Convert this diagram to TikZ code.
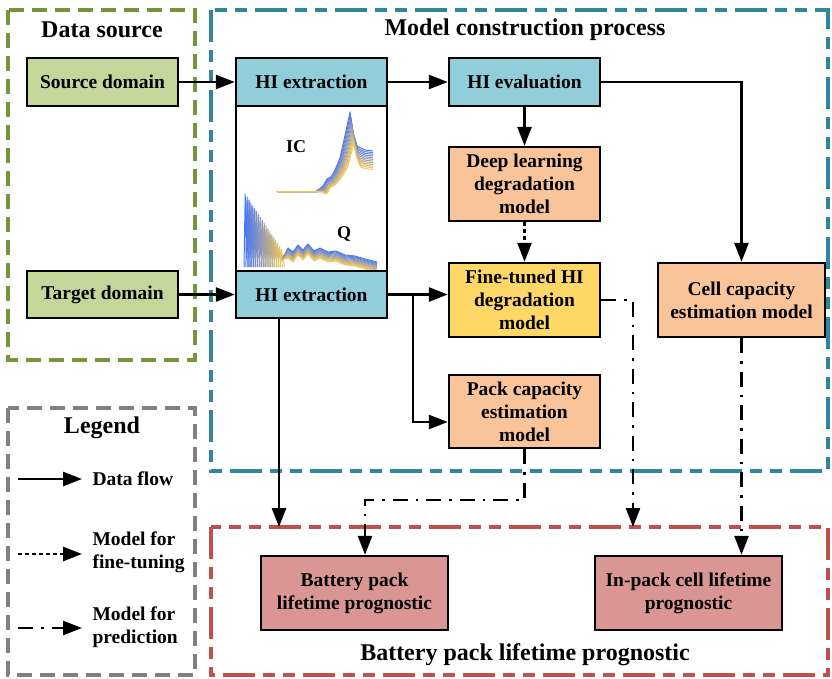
\documentclass[tikz,border=0pt]{standalone}
\usepackage{fontspec}
\setmainfont{Liberation Serif}
\usetikzlibrary{arrows.meta}
\definecolor{cgreen}{HTML}{C4D79B}
\definecolor{cblue}{HTML}{92CDDC}
\definecolor{corange}{HTML}{F9C49A}
\definecolor{cyellow}{HTML}{FDD866}
\definecolor{cred}{HTML}{D99694}
\definecolor{fgreen}{HTML}{77933C}
\definecolor{fblue}{HTML}{31859C}
\definecolor{fgray}{HTML}{808080}
\definecolor{fred}{HTML}{C0504D}
\definecolor{pblue}{HTML}{4A78F5}
\definecolor{pyellow}{HTML}{F6C957}
\tikzset{
  box/.style={draw=black,line width=2.4pt,minimum width=151pt,inner sep=0pt,align=center,
    font=\bfseries\fontsize{19.5}{23}\selectfont},
  frame/.style={line width=3.2pt},
  uni/.style={frame,dash pattern=on 15pt off 8pt},
  mixd/.style={frame,dash pattern=on 32pt off 8pt on 12pt off 8pt on 12pt off 8pt},
  ttl/.style={font=\bfseries\fontsize{24}{28}\selectfont},
  tip/.style={-{Triangle[length=19pt,width=14pt]}},
  flow/.style={tip,line width=2.6pt},
  fine/.style={tip,line width=2.6pt,dash pattern=on 4pt off 3pt},
  pred/.style={tip,line width=2.6pt,dash pattern=on 15pt off 8pt on 2.5pt off 8pt},
  lgt/.style={anchor=west,align=left,font=\bfseries\fontsize{19.5}{23}\selectfont},
}
\begin{document}
\begin{tikzpicture}[x=1pt,y=-1pt]
\useasboundingbox (0,0) rectangle (832,679);
% frames
\draw[uni,fgreen] (8,10) rectangle (195,360);
\draw[uni,fgray] (8,408) rectangle (195,675);
\draw[mixd,fblue] (211,10) rectangle (828,471);
\draw[mixd,fred] (211,527) rectangle (828,675);
% titles
\node[ttl] (tds) at (102,30) {Data source};
\node[ttl] (tmc) at (525,30) {Model construction process};
\node[ttl] (tlg) at (102,428) {Legend};
\node[ttl] (tbp) at (525,655) {Battery pack lifetime prognostic};
% plot panel
\draw[line width=2.4pt,fill=white] (236,106) rectangle (387,271);
\begin{scope}
\clip (237,107) rectangle (386,270);
\foreach \i in {0,...,11}{
  \pgfmathsetmacro{\p}{100-\i*9}
  \pgfmathsetmacro{\dy}{\i*2.4}
  \pgfmathsetmacro{\dx}{\i*0.35}
  \draw[pblue!\p!pyellow,line width=1pt,line join=round]
    (277,192) -- (316+\dx,191.5) -- (323+\dx,186+0.3*\dy) -- (327+\dx,179+0.3*\dy) -- (331+\dx,177+0.3*\dy)
    -- (335+\dx,170+0.4*\dy) -- (340+\dx,158+0.6*\dy) -- (344+\dx,140+\dy) -- (350+\dx,112+1.2*\dy)
    -- (353+\dx,132+\dy) -- (357+\dx,146+0.8*\dy) -- (365,150+0.7*\dy) -- (373,151+0.7*\dy);
}
\foreach \i in {0,...,19}{
  \pgfmathsetmacro{\p}{100-\i*5}
  \pgfmathsetmacro{\x}{244+\i*1.9}
  \pgfmathsetmacro{\h}{194+\i*2.9}
  \draw[pblue!\p!pyellow,line width=1pt,line join=round]
    (\x,267) -- (\x+1.2,\h) -- (\x+2.4,258) -- (\x+3.2,\h+6) -- (\x+4.2,267);
}
\foreach \i in {0,...,11}{
  \pgfmathsetmacro{\p}{100-\i*9}
  \pgfmathsetmacro{\dy}{\i*0.9}
  \draw[pblue!\p!pyellow,line width=1pt,line join=round]
    (282,260) -- (288,248+\dy) -- (293,252+\dy) -- (298,245+\dy) -- (303,250+\dy) -- (308,244+\dy)
    -- (314,251+\dy) -- (320,248+\dy) -- (328,252+\dy) -- (336,251+\dy) -- (345,255+\dy)
    -- (355,256+\dy) -- (365,259+\dy) -- (377,262+\dy);
}
\end{scope}
\node[font=\bfseries\fontsize{18}{20}\selectfont] (lic) at (296,147) {IC};
\node[font=\bfseries\fontsize{18}{20}\selectfont] (lq) at (344,234) {Q};
% nodes
\node[box,fill=cgreen,minimum height=48pt] (src) at (102.5,82) {Source domain};
\node[box,fill=cgreen,minimum height=47pt] (tgt) at (102.5,294.5) {Target domain};
\node[box,fill=cblue,minimum height=48pt] (hie1) at (311.5,82) {HI extraction};
\node[box,fill=cblue,minimum height=47pt] (hie2) at (311.5,294.5) {HI extraction};
\node[box,fill=cblue,minimum height=48pt] (hiev) at (524.5,82) {HI evaluation};
\node[box,fill=corange,minimum height=74pt] (deep) at (524.5,184) {Deep learning\\degradation\\model};
\node[box,fill=cyellow,minimum height=74pt] (fine) at (524.5,300) {Fine-tuned HI\\degradation\\model};
\node[box,fill=corange,minimum height=74pt,minimum width=167pt] (cell) at (741.5,300) {Cell capacity\\estimation model};
\node[box,fill=corange,minimum height=73pt] (pack) at (524.5,411.5) {Pack capacity\\estimation\\model};
\node[box,fill=cred,minimum height=74pt,minimum width=187pt] (bpl) at (354.5,593) {Battery pack\\lifetime prognostic};
\node[box,fill=cred,minimum height=74pt,minimum width=187pt] (ipl) at (688.5,593) {In-pack cell lifetime\\prognostic};
% coordinates
\coordinate (br) at (413,294.5);
\coordinate (b2) at (413,422);
\coordinate (hr) at (279,527);
\coordinate (pm) at (365,500);
\coordinate (fr) at (633,527);
% connectors
\draw[flow] (src) -- (hie1);
\draw[flow] (tgt) -- (hie2);
\draw[flow] (hie1) -- (hiev);
\draw[flow] (hiev.east) -| (cell.north);
\draw[flow] (hiev) -- (deep);
\draw[fine] (deep) -- (fine);
\draw[flow] (hie2.east) -- (fine.west |- hie2.east);
\draw[flow] (br) -- (b2) -- (pack.west |- b2);
\draw[flow] (hie2.south -| hr) -- (hr);
\draw[pred] (pack.south) |- (pm) -- (bpl.north -| pm);
\draw[pred] (fine.east) -| (fr);
\draw[pred] (cell.south) -- (ipl.north -| cell.south);
% legend
\coordinate (l1a) at (18,479); \coordinate (l1b) at (82,479);
\coordinate (l2a) at (18,554); \coordinate (l2b) at (82,554);
\coordinate (l3a) at (18,628); \coordinate (l3b) at (82,628);
\draw[flow] (l1a) -- (l1b);
\draw[fine] (l2a) -- (l2b);
\draw[pred] (l3a) -- (l3b);
\node[lgt] (t1) at (89,479) {Data flow};
\node[lgt] (t2) at (89,552) {Model for\\fine-tuning};
\node[lgt] (t3) at (89,627) {Model for\\prediction};
\end{tikzpicture}
\end{document}
